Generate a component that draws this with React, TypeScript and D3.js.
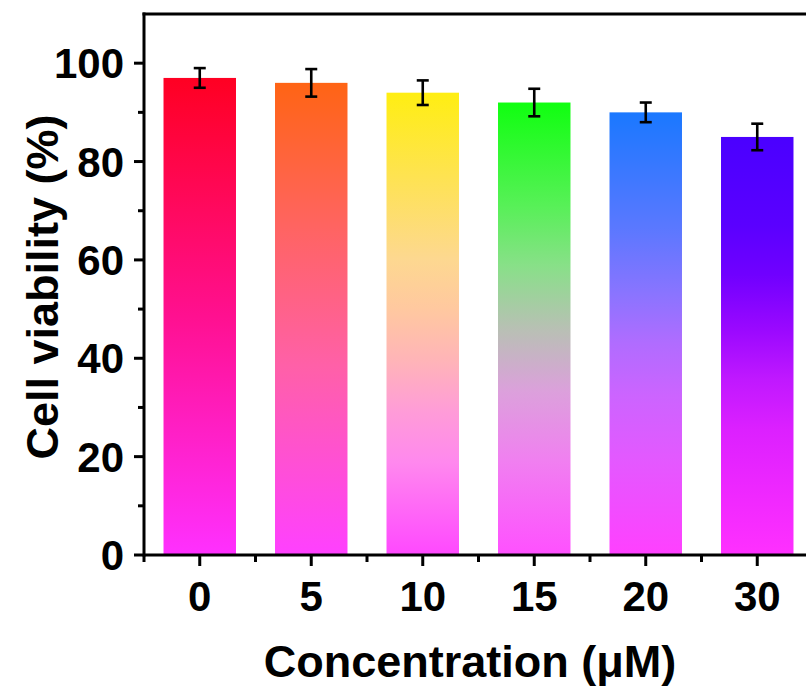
import React from 'react'
import * as d3 from 'd3'

const categories = ['0', '5', '10', '15', '20', '30']
const viability = [97, 96, 94, 92, 90, 85]
const errors = [2.0, 2.8, 2.5, 2.8, 2.0, 2.7]
const yTicks = [0, 20, 40, 60, 80, 100]
const yMinorTicks = [10, 30, 50, 70, 90]

// gradient stops per bar, top -> bottom
const barGradients: [number, string][][] = [
  [[0, '#ff0022'], [0.5, '#ff1090'], [1, '#ff30ff']],
  [[0, '#ff6414'], [0.3, '#ff6460'], [0.6, '#ff60a8'], [1, '#ff40ff']],
  [[0, '#ffee12'], [0.36, '#fdd890'], [0.47, '#ffc8a0'], [0.58, '#ffb4b8'], [0.69, '#ff9cd8'], [0.8, '#ff88ee'], [1, '#ff48ff']],
  [[0, '#10ff10'], [0.23, '#58f058'], [0.36, '#88e088'], [0.5, '#b8c0b4'], [0.64, '#dca0dc'], [0.79, '#f080f0'], [1, '#ff50ff']],
  [[0, '#1a78ff'], [0.26, '#5a78ff'], [0.41, '#8a74ff'], [0.52, '#b06cff'], [0.64, '#cc64ff'], [0.79, '#e458ff'], [1, '#ff40ff']],
  [[0, '#4a00ff'], [0.21, '#5a00ff'], [0.33, '#7000ff'], [0.46, '#9a08ff'], [0.58, '#c018ff'], [0.7, '#dc20ff'], [0.86, '#f028ff'], [1, '#ff30ff']],
]

const width = 806
const height = 688
const left = 144
const top = 14
const bottom = 555
const right = 813
const font = '"Liberation Sans", Arial, sans-serif'

export default function App() {
  const ref = React.useRef<SVGSVGElement>(null)

  React.useEffect(() => {
    const svg = d3.select(ref.current)
    svg.selectAll('*').remove()

    const x = d3.scaleBand<string>()
      .domain(categories)
      .range([left, right])
      .paddingInner(0.35)
      .paddingOuter(0.175)
    const y = d3.scaleLinear().domain([0, 110]).range([bottom, top])
    const step = x.step()
    const bw = x.bandwidth()

    const defs = svg.append('defs')
    barGradients.forEach((stops, i) => {
      const g = defs.append('linearGradient')
        .attr('id', `grad${i}`)
        .attr('x1', 0).attr('y1', 0).attr('x2', 0).attr('y2', 1)
      stops.forEach(([o, c]) => {
        g.append('stop').attr('offset', o).attr('stop-color', c)
      })
    })

    // bars
    svg.append('g').selectAll('rect')
      .data(viability)
      .enter()
      .append('rect')
      .attr('x', (d, i) => x(categories[i])!)
      .attr('y', d => y(d))
      .attr('width', bw)
      .attr('height', d => y(0) - y(d))
      .attr('fill', (d, i) => `url(#grad${i})`)

    // error bars
    const eb = svg.append('g').attr('stroke', '#000').attr('stroke-width', 2.6)
    viability.forEach((v, i) => {
      const cx = x(categories[i])! + bw / 2
      eb.append('line').attr('x1', cx).attr('x2', cx).attr('y1', y(v + errors[i])).attr('y2', y(v - errors[i]))
      eb.append('line').attr('x1', cx - 6).attr('x2', cx + 6).attr('y1', y(v + errors[i])).attr('y2', y(v + errors[i]))
      eb.append('line').attr('x1', cx - 6).attr('x2', cx + 6).attr('y1', y(v - errors[i])).attr('y2', y(v - errors[i]))
    })

    // frame: left axis, bottom axis, top line
    const ax = svg.append('g').attr('stroke', '#000').attr('stroke-width', 3).attr('fill', 'none')
    ax.append('line').attr('x1', left).attr('x2', left).attr('y1', top - 1.5).attr('y2', bottom + 1.5)
    ax.append('line').attr('x1', left).attr('x2', width).attr('y1', bottom).attr('y2', bottom)
    ax.append('line').attr('x1', left - 1.5).attr('x2', width).attr('y1', top).attr('y2', top)

    // y ticks
    yTicks.forEach(t => {
      ax.append('line').attr('x1', left - 10).attr('x2', left).attr('y1', y(t)).attr('y2', y(t))
    })
    yMinorTicks.forEach(t => {
      ax.append('line').attr('x1', left - 6).attr('x2', left).attr('y1', y(t)).attr('y2', y(t))
    })

    // x ticks
    categories.forEach(c => {
      const cx = x(c)! + bw / 2
      ax.append('line').attr('x1', cx).attr('x2', cx).attr('y1', bottom).attr('y2', bottom + 11)
      ax.append('line').attr('x1', cx - step / 2).attr('x2', cx - step / 2).attr('y1', bottom).attr('y2', bottom + 7)
    })

    // tick labels
    svg.append('g').selectAll('text')
      .data(yTicks)
      .enter()
      .append('text')
      .attr('x', left - 20)
      .attr('y', d => y(d) + 15)
      .attr('text-anchor', 'end')
      .style('font-family', font)
      .style('font-weight', 'bold')
      .style('font-size', '42px')
      .text(d => d)

    svg.append('g').selectAll('text')
      .data(categories)
      .enter()
      .append('text')
      .attr('x', d => x(d)! + bw / 2)
      .attr('y', 611)
      .attr('text-anchor', 'middle')
      .style('font-family', font)
      .style('font-weight', 'bold')
      .style('font-size', '42px')
      .text(d => d)

    // axis titles
    svg.append('text')
      .attr('x', 470)
      .attr('y', 677)
      .attr('text-anchor', 'middle')
      .style('font-family', font)
      .style('font-weight', 'bold')
      .style('font-size', '45px')
      .text('Concentration (\u03bcM)')

    svg.append('text')
      .attr('transform', `translate(58, 287) rotate(-90)`)
      .attr('text-anchor', 'middle')
      .style('font-family', font)
      .style('font-weight', 'bold')
      .style('font-size', '45px')
      .text('Cell viability (%)')
  }, [])

  return (
    <svg
      ref={ref}
      width={width}
      height={height}
      style={{ position: 'absolute', left: 0, top: 0, background: '#fff' }}
    />
  )
}
